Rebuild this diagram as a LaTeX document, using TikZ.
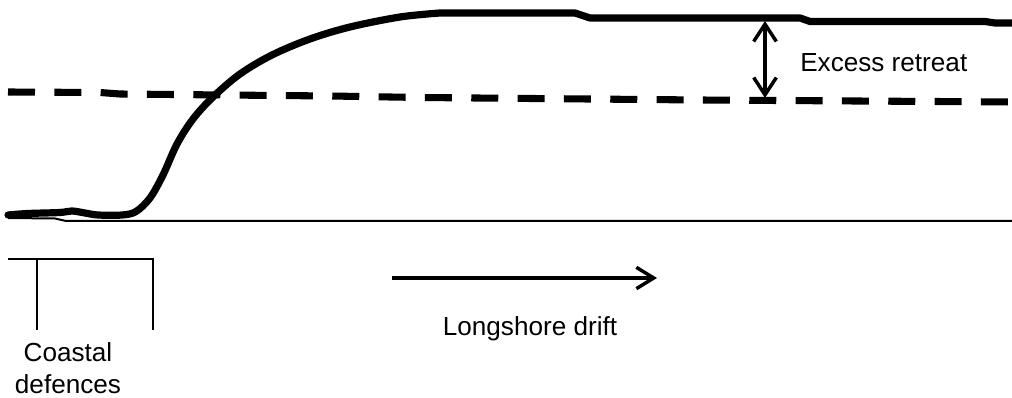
\documentclass[tikz,border=0pt]{standalone}
\usepackage{fontspec}
\setmainfont{Liberation Sans}
\usetikzlibrary{arrows.meta}
\begin{document}
\begin{tikzpicture}[x=0.75pt,y=-0.75pt,
  shore/.style={line width=5.4pt,line cap=round,line join=round},
  oldshore/.style={line width=5.3pt,dash pattern=on 20.25pt off 14.5pt},
  base/.style={line width=1.5pt},
  lbl/.style={font=\fontsize{19.6}{23.5}\selectfont,inner sep=0pt},
  bracket/.style={line width=1.5pt},
  arr/.style={line width=3pt,-{Straight Barb[length=13pt,width=16pt,line width=2.6pt]}},
  darr/.style={line width=2.4pt,{Straight Barb[length=13pt,width=17pt,line width=2.6pt]}-{Straight Barb[length=13pt,width=17pt,line width=2.6pt]}}]
\useasboundingbox (0,0) rectangle (1012,398);
% thin baseline
\draw[base] (8,218) -- (55,218.5) -- (66,221) -- (1012,221);
% old shoreline (dashed)
\draw[oldshore] (8,92) -- (100,92.5) -- (120,94) -- (330,96) -- (420,97.5) -- (700,100) -- (1012,102);
% present shoreline (thick)
\draw[shore] plot[smooth,tension=0.55] coordinates {(8,215) (28,213.5) (60,212.5) (72,211) (85,213) (98,215) (122,215) (136,211.5) (150,198) (163,175) (177,144) (193,119) (213,97) (240,74) (272,55) (310,39) (350,27) (400,17) (440,13)}
  -- (575,13) -- (590,18) -- (800,18) -- (810,21.5) -- (985,21.5) -- (995,23) -- (1012,23);
% excess retreat arrow
\coordinate (top) at (765,21);
\coordinate (bot) at (765,98);
\draw[darr] (top) -- (bot);
\node[lbl,anchor=west] (er) at (800,63) {Excess retreat};
% longshore drift
\coordinate (ls1) at (392,278);
\coordinate (ls2) at (657,278);
\draw[arr] (ls1) -- (ls2);
\node[lbl] (ld) at (530,329) {Longshore drift};
% coastal defences bracket
\coordinate (b0) at (8,259);
\coordinate (b1) at (153,259);
\coordinate (b2) at (37,259);
\draw[bracket] (b0) -- (b1) -- (153,330);
\draw[bracket] (b2) -- (37,330);
\node[lbl,align=center] (cd) at (68,368) {Coastal\\defences};
\end{tikzpicture}
\end{document}
